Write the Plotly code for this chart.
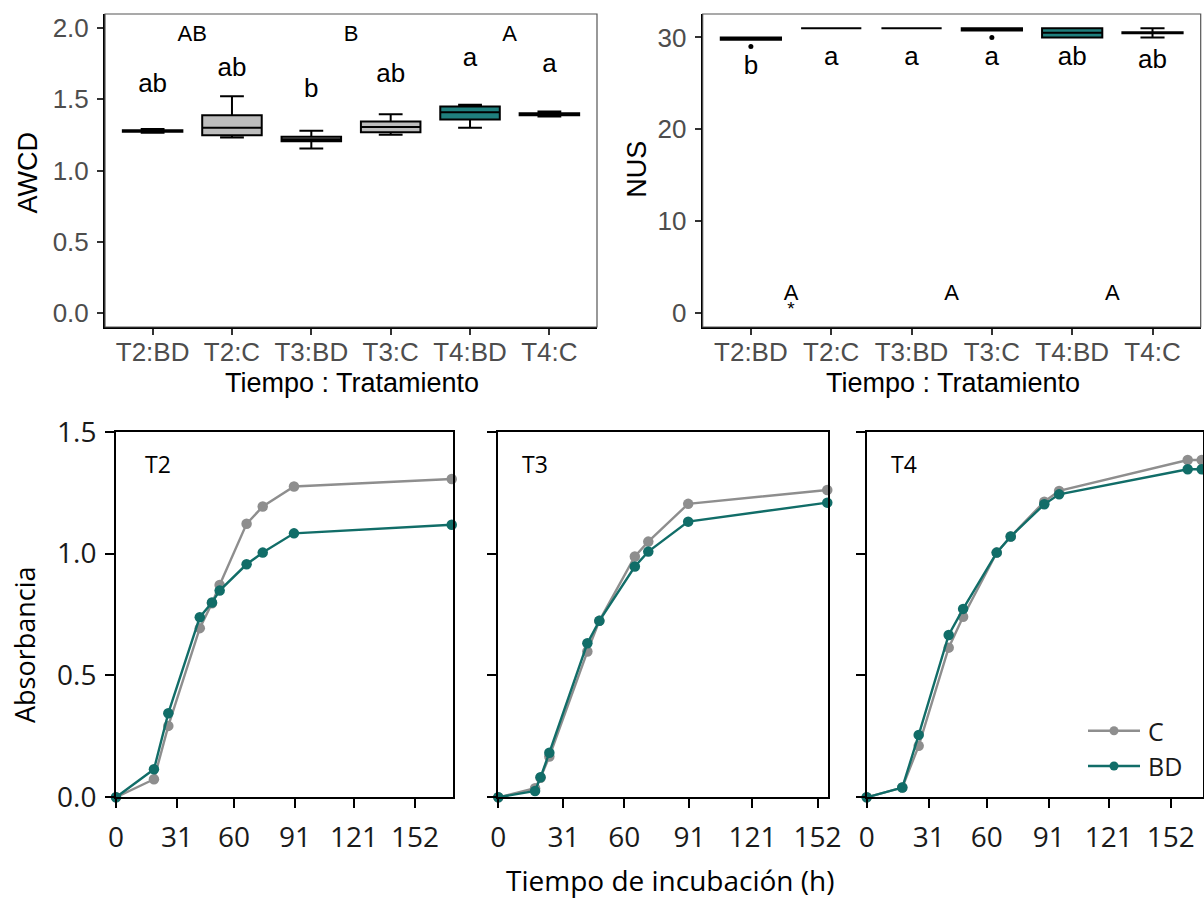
import plotly.graph_objects as go

W, H = 1204, 898

# ---------------- Top panels: boxplots by Tiempo : Tratamiento ----------------
groups = ["T2:BD", "T2:C", "T3:BD", "T3:C", "T4:BD", "T4:C"]
positions = [1, 2, 3, 4, 5, 6]
box_fill = ["#bdbdbd", "#bdbdbd", "#bdbdbd", "#bdbdbd", "#1f7f7d", "#bdbdbd"]

# AWCD five-number summaries
awcd_low = [1.265, 1.232, 1.155, 1.252, 1.300, 1.380]
awcd_q1 = [1.272, 1.248, 1.205, 1.268, 1.358, 1.388]
awcd_med = [1.278, 1.300, 1.220, 1.305, 1.410, 1.395]
awcd_q3 = [1.283, 1.389, 1.237, 1.345, 1.450, 1.402]
awcd_high = [1.292, 1.522, 1.280, 1.395, 1.462, 1.415]
awcd_letters = ["ab", "ab", "b", "ab", "a", "a"]
awcd_letter_y = [1.60, 1.71, 1.56, 1.67, 1.78, 1.74]

# NUS five-number summaries and outliers
nus_low = [29.75, 31, 31, 30.75, 30, 30]
nus_q1 = [29.75, 31, 31, 30.75, 30, 30.45]
nus_med = [30, 31, 31, 31, 30.5, 30.5]
nus_q3 = [30, 31, 31, 31, 31, 30.55]
nus_high = [30, 31, 31, 31, 31, 31]
nus_out_pos = [1, 4]
nus_out_val = [29, 30]
nus_letters = ["b", "a", "a", "a", "ab", "ab"]
nus_letter_y = [26.7, 27.7, 27.7, 27.7, 27.7, 27.35]

# Letters comparing sampling times (placed between each pair)
time_pos = [1.5, 3.5, 5.5]
awcd_time_letters = ["AB", "B", "A"]
awcd_time_y = [1.95, 1.95, 1.95]
nus_time_letters = ["A", "A", "A"]
nus_time_y = [2.0, 2.0, 2.0]
nus_star_pos = [1.5]
nus_star_y = [0.25]

# ---------------- Bottom panels: absorbance curves ----------------
hours_t2 = [0, 19.3, 26.6, 42.6, 48.8, 52.7, 66.4, 74.6, 90.5, 170.7]
c_t2 = [0, 0.074, 0.293, 0.694, 0.796, 0.871, 1.122, 1.193, 1.275, 1.306]
bd_t2 = [0, 0.115, 0.345, 0.739, 0.799, 0.848, 0.956, 1.004, 1.083, 1.118]

hours_t3 = [0, 17.5, 20.1, 24.3, 42.4, 48.1, 65.0, 71.4, 90.4, 156.6]
c_t3 = [0, 0.037, 0.080, 0.167, 0.598, 0.724, 0.988, 1.049, 1.204, 1.261]
bd_t3 = [0, 0.026, 0.082, 0.183, 0.632, 0.724, 0.947, 1.008, 1.131, 1.209]

hours_t4 = [0, 17.8, 26.0, 41.0, 48.2, 65.0, 72.0, 88.8, 96.2, 160.5, 167.5]
c_t4 = [0, 0.040, 0.211, 0.614, 0.741, 1.004, 1.070, 1.213, 1.257, 1.384, 1.384]
bd_t4 = [0, 0.040, 0.256, 0.666, 0.773, 1.004, 1.070, 1.202, 1.243, 1.346, 1.346]

hour_ticks = [0, 31, 60, 91, 121, 152]
abs_ticks = [0.0, 0.5, 1.0, 1.5]
series_names = ["C", "BD"]

GRAY = "#8e8e8e"
TEAL = "#116d68"
SANS = "Liberation Sans, Arial, sans-serif"
SOFT = "Open Sans, Noto Sans, sans-serif"


def px_x(p):
    return p / W


def px_y(p):
    return 1 - p / H


fig = go.Figure()

# ---- box traces ----
for ax, low, q1, med, q3, high in [
    ("", awcd_low, awcd_q1, awcd_med, awcd_q3, awcd_high),
    ("2", nus_low, nus_q1, nus_med, nus_q3, nus_high),
]:
    for i, g in enumerate(groups):
        fig.add_trace(go.Box(
            x=[positions[i]], q1=[q1[i]], median=[med[i]], q3=[q3[i]],
            lowerfence=[low[i]], upperfence=[high[i]],
            width=0.75, whiskerwidth=0.4, boxpoints=False,
            fillcolor=box_fill[i], line=dict(color="black", width=2),
            xaxis="x" + ax, yaxis="y" + ax, showlegend=False, hoverinfo="skip",
        ))

fig.add_trace(go.Scatter(
    x=nus_out_pos, y=nus_out_val, mode="markers",
    marker=dict(color="black", size=5), xaxis="x2", yaxis="y2",
    showlegend=False, hoverinfo="skip"))

# ---- significance letters ----
def letters(xs, ys, txt, ax, size):
    fig.add_trace(go.Scatter(
        x=xs, y=ys, text=txt, mode="text", textposition="middle center",
        textfont=dict(family=SANS, size=size, color="black"),
        xaxis="x" + ax, yaxis="y" + ax, showlegend=False, hoverinfo="skip",
        cliponaxis=False))

letters(positions, awcd_letter_y, awcd_letters, "", 26)
letters(time_pos, awcd_time_y, awcd_time_letters, "", 22)
letters(positions, nus_letter_y, nus_letters, "2", 26)
letters(time_pos, nus_time_y, nus_time_letters, "2", 22)
letters(nus_star_pos, nus_star_y, ["*"], "2", 19)

# ---- absorbance curves ----
curves = [
    ("3", hours_t2, c_t2, bd_t2),
    ("4", hours_t3, c_t3, bd_t3),
    ("5", hours_t4, c_t4, bd_t4),
]
for k, (ax, hrs, c_vals, bd_vals) in enumerate(curves):
    for name, vals, col in [("C", c_vals, GRAY), ("BD", bd_vals, TEAL)]:
        fig.add_trace(go.Scatter(
            x=hrs, y=vals, mode="lines+markers", name=name,
            line=dict(color=col, width=2.4), marker=dict(color=col, size=10.5),
            xaxis="x" + ax, yaxis="y" + ax, cliponaxis=False,
            showlegend=False, hoverinfo="skip"))

# ---- axes ----
top_y0, top_y1 = px_y(327), px_y(14)
bot_y0, bot_y1 = px_y(797.3), px_y(431.7)

top_x = dict(
    tickmode="array", tickvals=positions, ticktext=groups, range=[0.4, 6.6],
    ticks="outside", ticklen=6, tickwidth=1.5, tickcolor="#333333",
    ticklabelstandoff=-5,
    showline=True, linecolor="black", linewidth=2, mirror=False,
    showgrid=False, zeroline=False, automargin=False,
    tickfont=dict(family=SANS, size=26, color="#4d4d4d"))
top_y = dict(
    ticks="outside", ticklen=6, tickwidth=1.5, tickcolor="#333333",
    ticklabelstandoff=3,
    showline=True, linecolor="black", linewidth=2, mirror=False,
    showgrid=False, zeroline=False, automargin=False,
    tickfont=dict(family=SANS, size=26, color="#4d4d4d"))

bot_x = dict(
    tickmode="array", tickvals=hour_ticks, ticks="outside", ticklen=9,
    tickwidth=2, tickcolor="black", showline=True, linecolor="black",
    ticklabelstandoff=5,
    linewidth=2, mirror=True, showgrid=False, zeroline=False, automargin=False,
    tickfont=dict(family=SOFT, size=28, color="#1a1a1a"))
bot_y = dict(
    range=[0, 1.5], tickmode="array", tickvals=abs_ticks, tickformat=".1f",
    ticks="outside", ticklen=9, tickwidth=2, tickcolor="black",
    ticklabelstandoff=3,
    showline=True, linecolor="black", linewidth=2, mirror=True,
    showgrid=False, zeroline=False, automargin=False,
    tickfont=dict(family=SOFT, size=28, color="#1a1a1a"))

fig.update_layout(
    width=W, height=H, margin=dict(l=0, r=0, t=0, b=0, autoexpand=False),
    paper_bgcolor="white", plot_bgcolor="white", boxmode="overlay",
    xaxis=dict(top_x, domain=[px_x(105), px_x(597)], anchor="y"),
    yaxis=dict(top_y, domain=[top_y0, top_y1], range=[-0.1, 2.1],
               tickvals=[0, 0.5, 1.0, 1.5, 2.0], tickformat=".1f", anchor="x"),
    xaxis2=dict(top_x, domain=[px_x(702.7), px_x(1200.7)], anchor="y2"),
    yaxis2=dict(top_y, domain=[top_y0, top_y1], range=[-1.55, 32.55],
                tickvals=[0, 10, 20, 30], anchor="x2"),
    xaxis3=dict(bot_x, domain=[px_x(116), px_x(453.3)], range=[0, 171.5], anchor="y3"),
    yaxis3=dict(bot_y, domain=[bot_y0, bot_y1], anchor="x3"),
    xaxis4=dict(bot_x, domain=[px_x(498.3), px_x(828.3)], range=[0, 157.1], anchor="y4"),
    yaxis4=dict(bot_y, domain=[bot_y0, bot_y1], anchor="x4", showticklabels=False),
    xaxis5=dict(bot_x, domain=[px_x(866.7), px_x(1202.7)], range=[0, 168], anchor="y5"),
    yaxis5=dict(bot_y, domain=[bot_y0, bot_y1], anchor="x5", showticklabels=False),
    showlegend=False,
)

# thin panel borders around the two boxplot panels
for ax in ["x", "x2"]:
    yref = "y" if ax == "x" else "y2"
    fig.add_shape(type="rect", xref=ax + " domain", yref=yref + " domain",
                  x0=0, x1=1, y0=0, y1=1, line=dict(color="#555555", width=1.2),
                  layer="above")

# legend key drawn inside the T4 panel
for name, col, ly in [(series_names[0], GRAY, 730.7), (series_names[1], TEAL, 766)]:
    fig.add_shape(type="line", xref="paper", yref="paper",
                  x0=px_x(1088), x1=px_x(1140), y0=px_y(ly), y1=px_y(ly),
                  line=dict(color=col, width=2.4))
    fig.add_shape(type="circle", xref="paper", yref="paper",
                  x0=px_x(1109.5), x1=px_x(1118.5), y0=px_y(ly + 4.5), y1=px_y(ly - 4.5),
                  line=dict(color=col, width=0), fillcolor=col)
    fig.add_annotation(text=name, x=px_x(1146), y=px_y(ly), xref="paper", yref="paper",
                       showarrow=False, xanchor="left", yanchor="middle",
                       font=dict(family=SOFT, size=25, color="#1a1a1a"))

# axis titles and panel tags
def label(text, x, y, size, family, angle=0):
    fig.add_annotation(text=text, x=px_x(x), y=px_y(y), xref="paper", yref="paper",
                       showarrow=False, textangle=angle, xanchor="center", yanchor="middle",
                       font=dict(family=family, size=size, color="black"))

label("AWCD", 27.5, 173, 27, SANS, -90)
label("NUS", 636.7, 169, 27, SANS, -90)
label("Tiempo : Tratamiento", 352, 383.5, 27, SANS)
label("Tiempo : Tratamiento", 953.3, 383.5, 27, SANS)
label("Absorbancia", 24, 645, 27, SOFT, -90)
label("Tiempo de incubación (h)", 670, 880, 28, SOFT)

for tag, x in [("T2", 143), ("T3", 520), ("T4", 889)]:
    fig.add_annotation(text=tag, x=px_x(x), y=px_y(463.7), xref="paper", yref="paper",
                       showarrow=False, xanchor="left", yanchor="middle",
                       font=dict(family=SOFT, size=23, color="black"))

fig.write_html("out.html")
